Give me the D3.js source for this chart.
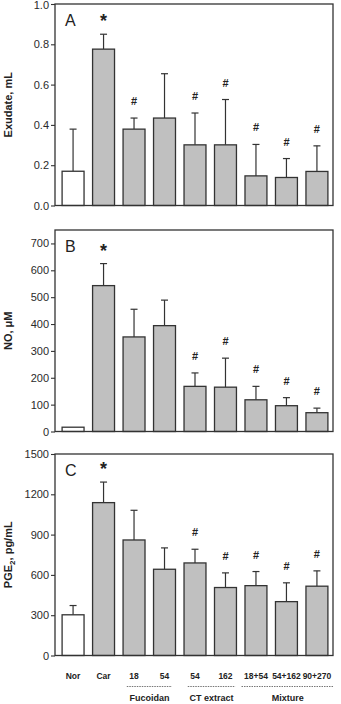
<!DOCTYPE html>
<html>
<head>
<meta charset="utf-8">
<script src="https://cdn.jsdelivr.net/npm/d3@7"></script>
<style>
  body { margin: 0; background: #fff; }
  svg { display: block; font-family: "Liberation Sans", Arial, sans-serif; }
  .tick text { fill: #2a2a2a; }
</style>
</head>
<body>
<svg id="chart" width="341" height="704"></svg>
<script>
// groups on the x axis (same for all three panels)
const groupLabels = ["Nor", "Car", "18", "54", "54", "162", "18+54", "54+162", "90+270"];
const treatments = [
    { name: "Fucoidan", from: 2, to: 3 },
    { name: "CT extract", from: 4, to: 5 },
    { name: "Mixture", from: 6, to: 8 }
];

// A: exudate volume, mL
const exudate = [0.17, 0.776, 0.379, 0.434, 0.301, 0.301, 0.147, 0.139, 0.169];
const exudateSD = [0.209, 0.074, 0.055, 0.22, 0.158, 0.225, 0.156, 0.094, 0.127];
const exudateMarks = ["", "*", "#", "", "#", "#", "#", "#", "#"];
const exudateTicks = [0, 0.2, 0.4, 0.6, 0.8, 1.0];

// B: NO, uM
const nitric = [16, 543, 352, 394, 168, 165, 118, 96, 70];
const nitricSD = [0, 82, 103, 95, 50, 108, 50, 30, 17];
const nitricMarks = ["", "*", "", "", "#", "#", "#", "#", "#"];
const nitricTicks = [0, 100, 200, 300, 400, 500, 600, 700];

// C: PGE2, pg/mL
const pge2 = [303, 1138, 860, 642, 689, 506, 520, 401, 516];
const pge2SD = [69, 153, 221, 159, 102, 109, 105, 140, 114];
const pge2Marks = ["", "*", "", "", "#", "#", "#", "#", "#"];
const pge2Ticks = [0, 300, 600, 900, 1200, 1500];

const svg = d3.select("#chart");
const left = 55, right = 333, ph = 201.5;

const x = d3.scaleBand()
    .domain(d3.range(groupLabels.length))
    .range([56, 334])
    .paddingInner(0.28)
    .paddingOuter(0.2);

const panels = [
    { letter: "A", top: 4, max: 1.0, ticks: exudateTicks, fmt: d3.format(".1f"),
      values: exudate, sd: exudateSD, marks: exudateMarks, label: ["Exudate, mL"] },
    { letter: "B", top: 230, max: 750, ticks: nitricTicks, fmt: d3.format("d"),
      values: nitric, sd: nitricSD, marks: nitricMarks, label: ["NO, \u03bcM"] },
    { letter: "C", top: 454, max: 1500, ticks: pge2Ticks, fmt: d3.format("d"),
      values: pge2, sd: pge2SD, marks: pge2Marks, label: ["PGE", "2", ", pg/mL"] }
];

panels.forEach(p => {
    const y = d3.scaleLinear().domain([0, p.max]).range([p.top + ph, p.top]);
    const g = svg.append("g");

    // y axis
    g.append("g")
        .attr("transform", `translate(${left},0)`)
        .call(d3.axisLeft(y).tickValues(p.ticks).tickFormat(p.fmt).tickSize(4).tickPadding(2))
        .call(a => a.select(".domain").remove())
        .call(a => a.selectAll(".tick line").attr("stroke", "#333").attr("stroke-width", 1.1))
        .call(a => a.selectAll(".tick text").attr("font-size", 11).attr("font-family", "Liberation Sans, Arial, sans-serif"))
        // keep the top label of the first panel inside the page
        .call(a => a.selectAll(".tick text").filter(d => y(d) < 6).attr("dy", "0.42em"));

    // error bars (upper only)
    const err = g.append("g").selectAll("g")
        .data(p.values.map((v, i) => ({ i, v, sd: p.sd[i] })))
        .join("g");
    err.filter(d => d.sd > 0).append("line")
        .attr("x1", d => x(d.i) + x.bandwidth() / 2)
        .attr("x2", d => x(d.i) + x.bandwidth() / 2)
        .attr("y1", d => y(d.v))
        .attr("y2", d => y(d.v + d.sd))
        .attr("stroke", "#333").attr("stroke-width", 1.2);
    err.filter(d => d.sd > 0).append("line")
        .attr("x1", d => x(d.i) + x.bandwidth() / 2 - 3.5)
        .attr("x2", d => x(d.i) + x.bandwidth() / 2 + 3.5)
        .attr("y1", d => y(d.v + d.sd))
        .attr("y2", d => y(d.v + d.sd))
        .attr("stroke", "#333").attr("stroke-width", 1.2);

    // bars
    g.append("g").selectAll("rect")
        .data(p.values)
        .join("rect")
        .attr("x", (d, i) => x(i))
        .attr("width", x.bandwidth())
        .attr("y", d => y(d))
        .attr("height", d => y(0) - y(d))
        .attr("fill", (d, i) => i === 0 ? "#fff" : "#c0c0c0")
        .attr("stroke", "#333")
        .attr("stroke-width", 1.3);

    // significance marks
    g.append("g").selectAll("text")
        .data(p.values.map((v, i) => ({ i, v, sd: p.sd[i], m: p.marks[i] })).filter(d => d.m))
        .join("text")
        .attr("x", d => x(d.i) + x.bandwidth() / 2)
        .attr("y", d => y(d.v + d.sd) - (d.m === "*" ? 7 : 13))
        .attr("text-anchor", "middle")
        .attr("font-size", d => d.m === "*" ? 18 : 11)
        .attr("font-weight", "bold")
        .attr("fill", "#222")
        .text(d => d.m);

    // frame
    g.append("rect")
        .attr("x", left).attr("y", p.top)
        .attr("width", right - left).attr("height", ph)
        .attr("fill", "none").attr("stroke", "#333").attr("stroke-width", 1.3);

    // panel letter
    g.append("text")
        .attr("x", 65).attr("y", p.top + 21.5)
        .attr("font-size", 16).attr("fill", "#222")
        .text(p.letter);

    // y label
    const yl = g.append("text")
        .attr("transform", `translate(12,${p.top + ph / 2}) rotate(-90)`)
        .attr("text-anchor", "middle")
        .attr("font-size", 11).attr("font-weight", "bold").attr("fill", "#222");
    if (p.label.length === 1) {
        yl.text(p.label[0]);
    } else {
        yl.append("tspan").text(p.label[0]);
        yl.append("tspan").attr("dy", 3).attr("font-size", 8).text(p.label[1]);
        yl.append("tspan").attr("dy", -3).text(p.label[2]);
    }
});

// x labels under the last panel
const xl = svg.append("g").selectAll("text")
    .data(groupLabels)
    .join("text")
    .attr("x", (d, i) => x(i) + x.bandwidth() / 2)
    .attr("y", 678.5)
    .attr("text-anchor", "middle")
    .attr("font-size", 8.5).attr("font-weight", "bold").attr("fill", "#222")
    .text(d => d);

const nodes = xl.nodes();
treatments.forEach(t => {
    const b0 = nodes[t.from].getBBox();
    const b1 = nodes[t.to].getBBox();
    const x0 = b0.x - 2.5, x1 = b1.x + b1.width + 2.5;
    svg.append("line")
        .attr("x1", x0).attr("x2", x1)
        .attr("y1", 686.5).attr("y2", 686.5)
        .attr("stroke", "#666").attr("stroke-width", 0.9)
        .attr("stroke-dasharray", "1.5,1");
    svg.append("text")
        .attr("x", (x0 + x1) / 2).attr("y", 700.5)
        .attr("text-anchor", "middle")
        .attr("font-size", 9).attr("font-weight", "bold").attr("fill", "#222")
        .text(t.name);
});
</script>
</body>
</html>
